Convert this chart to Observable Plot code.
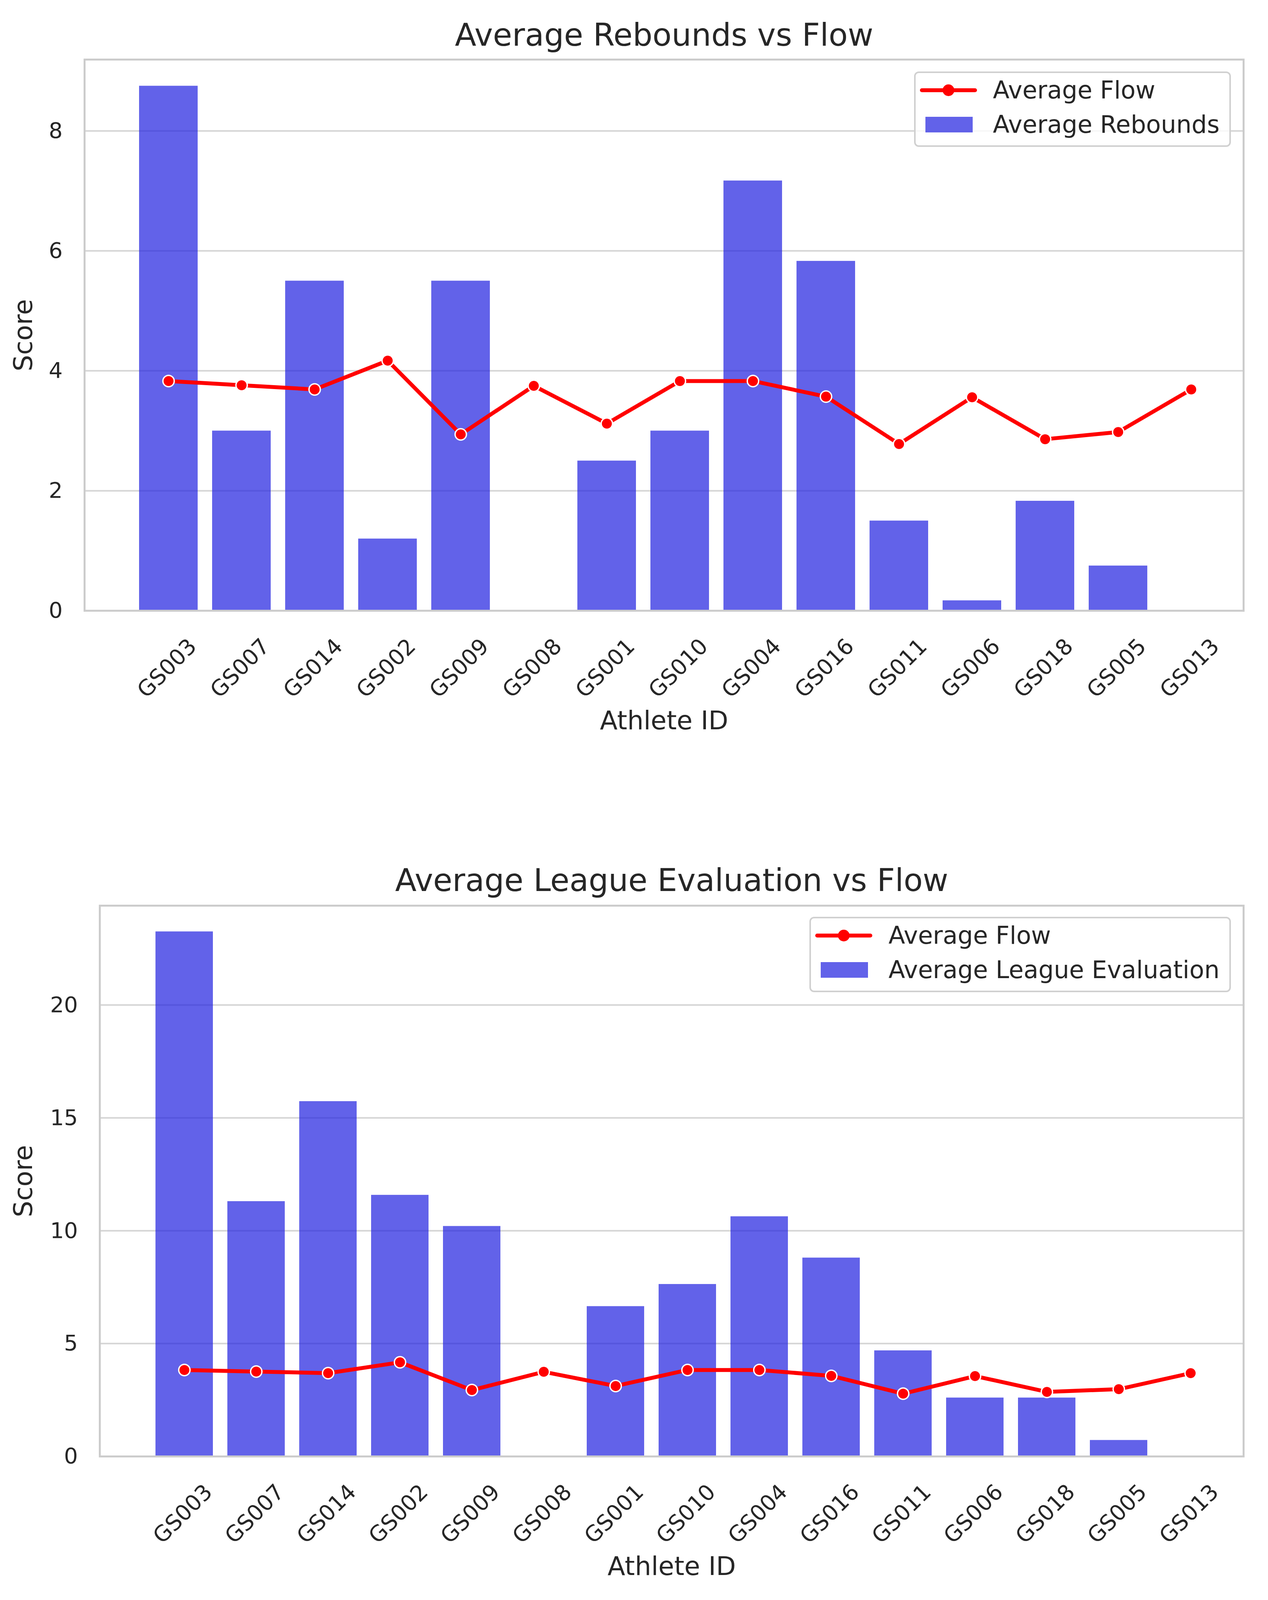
<!DOCTYPE html>
<html>
<head>
<meta charset="utf-8">
<script src="https://cdn.jsdelivr.net/npm/d3@7"></script>
<script src="https://cdn.jsdelivr.net/npm/@observablehq/plot@0.6"></script>
<style>
  html, body { margin: 0; padding: 0; background: #fff; font-family: "DejaVu Sans", sans-serif; color: #262626; overflow: hidden; }
  .panel { position: relative; width: 3246px; }
  .panel svg { display: block; }
  .legend {
    position: absolute; right: 95px; box-sizing: border-box;
    border: 4px solid #d0d0d0; border-radius: 12px; background: rgba(255,255,255,0.8);
    padding: 0 25px 0 0; font-size: 62px; line-height: 1;
  }
  .legend .row { display: flex; align-items: center; white-space: nowrap; }
  .legend svg { flex: none; }
</style>
</head>
<body>
<div id="chart"></div>
<script>
const athleteIds = ["GS003", "GS007", "GS014", "GS002", "GS009", "GS008", "GS001", "GS010",
                    "GS004", "GS016", "GS011", "GS006", "GS018", "GS005", "GS013"];
const avgFlow = [3.83, 3.76, 3.69, 4.17, 2.94, 3.75, 3.12, 3.83, 3.83, 3.57, 2.78, 3.56, 2.86, 2.98, 3.69];
const avgRebounds = [8.75, 3.0, 5.5, 1.2, 5.5, 0, 2.5, 3.0, 7.17, 5.83, 1.5, 0.17, 1.83, 0.75, 0];
const avgLeagueEval = [23.25, 11.3, 15.73, 11.58, 10.2, 0, 6.65, 7.63, 10.63, 8.8, 4.69, 2.6, 2.6, 0.72, 0];
const reboundTicks = [0, 2, 4, 6, 8];
const leagueTicks = [0, 5, 10, 15, 20];

const barColor = "rgb(32,32,223)";

// the page is laid out for 4304px; squeeze vertically if the viewport is shorter
const sy = Math.min(1, (window.innerHeight || 4304) / 4304);
const v = y => Math.round(y * sy);

function legendBox(barLabel, top) {
  const rowH = v(92), mid = rowH / 2;
  const box = document.createElement("div");
  box.className = "legend";
  box.style.top = top + "px";
  box.style.height = v(203) + "px";
  box.innerHTML = `
    <div class="row" style="height:${rowH}px"><svg width="198" height="${rowH}">
      <line x1="16" x2="152" y1="${mid}" y2="${mid}" stroke="red" stroke-width="10" stroke-linecap="round"/>
      <circle cx="84" cy="${mid}" r="15" fill="red"/></svg><span>Average Flow</span></div>
    <div class="row" style="height:${rowH}px"><svg width="198" height="${rowH}">
      <rect x="25" y="${mid - 20}" width="121" height="40" fill="${barColor}" fill-opacity="0.7"/></svg><span>${barLabel}</span></div>`;
  return box;
}

function scoreChart({title, values, barLabel, yMax, yTicks, height, top, bottom, left, right, titleDy, legendTop}) {
  const rows = athleteIds.map((id, i) => ({id, value: values[i], flow: avgFlow[i]}));
  const chart = Plot.plot({
    width: 3246,
    height,
    marginTop: top,
    marginBottom: bottom,
    marginLeft: left,
    marginRight: right,
    style: {fontFamily: "DejaVu Sans", color: "#262626", background: "white", overflow: "visible"},
    x: {type: "band", domain: athleteIds, paddingInner: 0.2, paddingOuter: 0.517, align: 0.7, axis: null},
    y: {domain: [0, yMax]},
    marks: [
      Plot.gridY(yTicks, {stroke: "#d5d5d5", strokeOpacity: 1, strokeWidth: 4}),
      Plot.axisY(yTicks, {tickSize: 0, tickPadding: 56, fontSize: 56, label: null, tickFormat: d3.format("d")}),
      Plot.barY(rows, {x: "id", y: "value", fill: barColor, fillOpacity: 0.7}),
      Plot.frame({stroke: "#cccccc", strokeWidth: 5}),
      Plot.line(rows, {x: "id", y: "flow", stroke: "red", strokeWidth: 10}),
      Plot.dot(rows, {x: "id", y: "flow", r: 14.5, fill: "red", stroke: "white", strokeWidth: 3.5}),
      Plot.text(athleteIds, {x: d => d, text: d => d, frameAnchor: "bottom", rotate: -45,
        textAnchor: "end", lineAnchor: "middle", dx: 62, dy: v(86), fontSize: 56}),
      Plot.text([title], {text: d => d, frameAnchor: "top", lineAnchor: "middle", dy: titleDy, fontSize: 80}),
      Plot.text(["Athlete ID"], {text: d => d, frameAnchor: "bottom", lineAnchor: "middle", dy: v(296), fontSize: 66}),
      Plot.text(["Score"], {text: d => d, frameAnchor: "left", textAnchor: "middle", lineAnchor: "middle",
        rotate: -90, dx: 60 - left, fontSize: 66})
    ]
  });
  const panel = document.createElement("div");
  panel.className = "panel";
  panel.append(chart, legendBox(barLabel, legendTop));
  return panel;
}

const topHeight = v(2200);
const root = document.getElementById("chart");
root.append(scoreChart({
  title: "Average Rebounds vs Flow", values: avgRebounds, barLabel: "Average Rebounds",
  yMax: 9.19, yTicks: reboundTicks, height: topHeight, top: v(160), bottom: topHeight - v(1642),
  left: 216, right: 63, titleDy: -v(64), legendTop: v(192)
}));
const bottomHeight = v(4304) - topHeight;
root.append(scoreChart({
  title: "Average League Evaluation vs Flow", values: avgLeagueEval, barLabel: "Average League Evaluation",
  yMax: 24.4, yTicks: leagueTicks, height: bottomHeight, top: v(2436) - topHeight,
  bottom: v(4304) - v(3917), left: 255, right: 63, titleDy: -v(66), legendTop: v(2466) - topHeight
}));
</script>
</body>
</html>
